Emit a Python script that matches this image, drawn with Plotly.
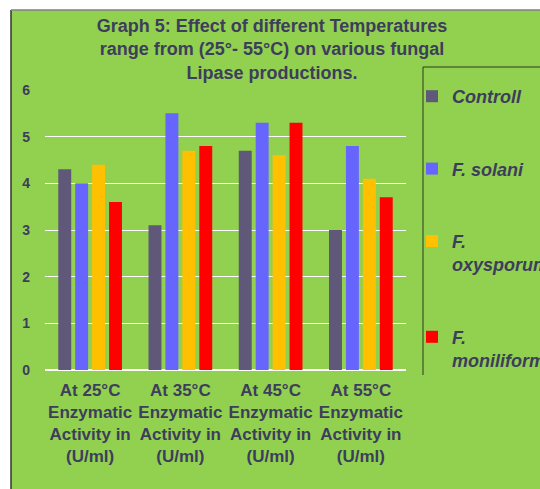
import plotly.graph_objects as go

categories = ["At 25°C<br>Enzymatic<br>Activity in<br>(U/ml)",
              "At 35°C<br>Enzymatic<br>Activity in<br>(U/ml)",
              "At 45°C<br>Enzymatic<br>Activity in<br>(U/ml)",
              "At 55°C<br>Enzymatic<br>Activity in<br>(U/ml)"]
series_names = ["Controll", "F. solani", "F.<br>oxysporum", "F.<br>moniliforme"]
controll = [4.3, 3.1, 4.7, 3.0]
solani = [4.0, 5.5, 5.3, 4.8]
oxysporum = [4.4, 4.7, 4.6, 4.1]
moniliforme = [3.6, 4.8, 5.3, 3.7]
colors = ["#5f5878", "#6666ff", "#ffc000", "#ff0000"]
yticks = [0, 1, 2, 3, 4, 5, 6]

W, H = 540, 489
L, R, T, B = 45, 134, 90, 119
pw, ph = W - L - R, H - T - B
TXT = "#3d3d5c"
BG = "#92d050"

def px(x):
    return (x - L) / pw

def py(y):
    return (H - B - y) / ph

fig = go.Figure()
for i, (name, vals) in enumerate(zip(series_names, [controll, solani, oxysporum, moniliforme])):
    fig.add_trace(go.Bar(x=categories, y=vals, name=name, marker_color=colors[i],
                         marker_line_width=0, legendgroup=str(i)))

shapes = [
    dict(type="rect", xref="paper", yref="paper", x0=px(0), x1=px(11), y0=py(H), y1=py(0),
         fillcolor="white", line_width=0, layer="above"),
    dict(type="rect", xref="paper", yref="paper", x0=px(0), x1=px(W), y0=py(10), y1=py(0),
         fillcolor="white", line_width=0, layer="above"),
    dict(type="line", xref="paper", yref="paper", x0=px(11), x1=px(11), y0=py(10), y1=py(H),
         line=dict(color="#333333", width=1.5)),
    dict(type="line", xref="paper", yref="paper", x0=px(11), x1=px(W), y0=py(10), y1=py(10),
         line=dict(color="#808080", width=1.5)),
    dict(type="line", xref="paper", yref="paper", x0=px(423), x1=px(423), y0=py(67), y1=py(375),
         line=dict(color="#2a3a1a", width=1)),
    dict(type="line", xref="paper", yref="paper", x0=px(423), x1=px(W), y0=py(67), y1=py(67),
         line=dict(color="#2a3a1a", width=1)),
]

fig.update_layout(
    width=W, height=H,
    margin=dict(l=L, r=R, t=T, b=B, autoexpand=False),
    paper_bgcolor=BG, plot_bgcolor=BG,
    font=dict(family="Liberation Sans, Arial", color=TXT),
    title=dict(text="Graph 5: Effect of different Temperatures<br>range from (25°- 55°C) on various fungal<br>Lipase productions.",
               x=272 / W, xanchor="center", xref="container",
               y=1 - 32 / H, yanchor="top", yref="container",
               font=dict(size=18, weight="bold", color=TXT)),
    barmode="group", bargap=0.25, bargroupgap=0.235,
    xaxis=dict(showgrid=False, showline=False, zeroline=False, ticks="",
               ticklabelstandoff=8,
               tickfont=dict(size=17, weight="bold", color=TXT)),
    yaxis=dict(range=[0, 6], tickvals=yticks, showgrid=True, gridcolor="white", gridwidth=1,
               zeroline=True, zerolinecolor="white", zerolinewidth=1.5,
               ticklabelstandoff=14, ticks="",
               tickfont=dict(size=14, weight="bold", color=TXT)),
    legend=dict(x=px(412), xanchor="left", y=py(78), yanchor="top",
                bgcolor="rgba(0,0,0,0)", borderwidth=0, tracegroupgap=46, valign="top",
                maxheight=480,
                font=dict(size=18, weight="bold", style="italic", color=TXT)),
    showlegend=True,
    shapes=shapes,
)

fig.write_html("out.html")
